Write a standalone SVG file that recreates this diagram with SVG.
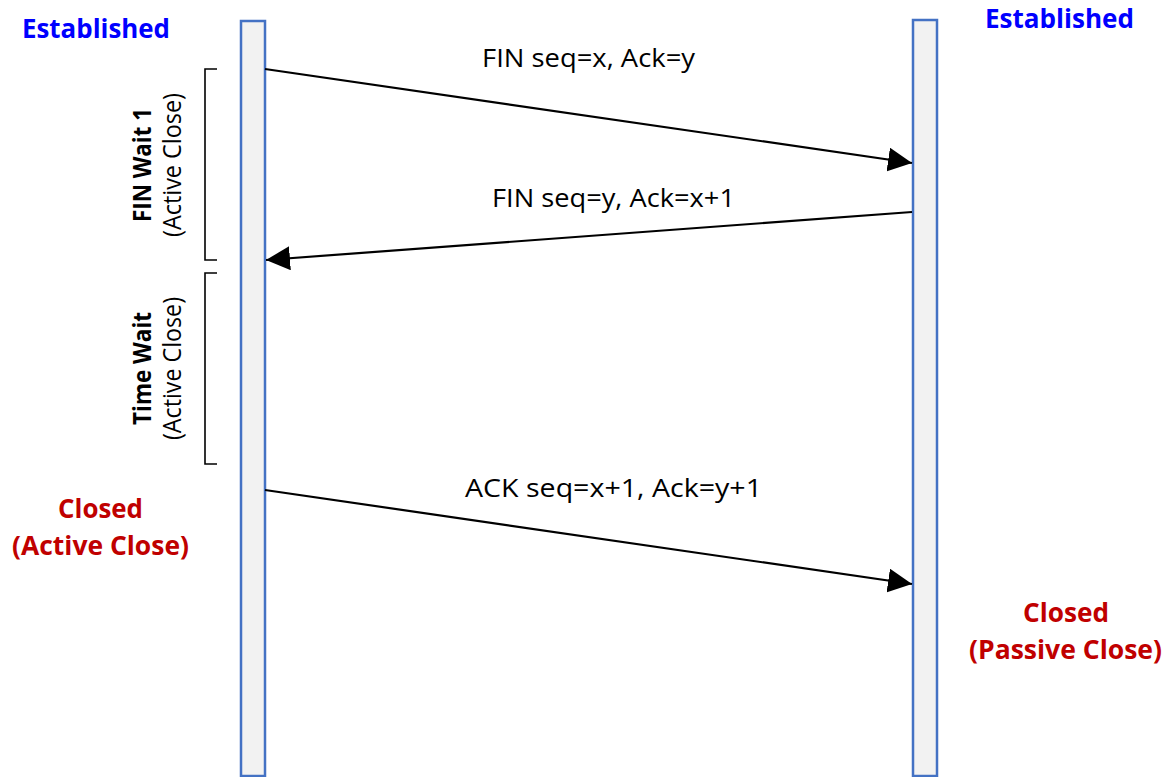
<svg xmlns="http://www.w3.org/2000/svg" width="1168" height="777" viewBox="0 0 1168 777">
  <style>
    .lifeline { fill: #F2F2F2; stroke: #4472C4; stroke-width: 2.5; }
    .msg { fill: none; stroke: #000; stroke-width: 2.2; marker-end: url(#head); }
    .bracket { fill: none; stroke: #000; stroke-width: 1.6; }
    .lbl { font-family: "Open Sans", "Liberation Sans", sans-serif; font-size: 25.5px; fill: #000; }
    .state { font-family: "Open Sans", "Liberation Sans", sans-serif; font-size: 27px; font-weight: bold; }
    .blue { fill: #0000FF; }
    .red { fill: #C00000; }
    .vbold { font-family: "Open Sans", "Liberation Sans", sans-serif; font-size: 25px; font-weight: bold; fill: #000; }
    .vreg { font-family: "Open Sans", "Liberation Sans", sans-serif; font-size: 25px; fill: #000; }
  </style>
  <defs>
    <marker id="head" markerUnits="userSpaceOnUse" markerWidth="24" markerHeight="24" refX="22" refY="11" orient="auto" viewBox="0 0 22 22">
      <path d="M0,0 L22,11 L0,22 Z" fill="#000"/>
    </marker>
  </defs>

  <rect width="1168" height="777" fill="#fff"/>

  <!-- lifelines -->
  <g id="client">
    <rect class="lifeline" x="241" y="21" width="24" height="755"/>
  </g>
  <g id="server">
    <rect class="lifeline" x="913" y="20" width="24" height="756"/>
  </g>

  <!-- messages -->
  <g id="connectors">
    <line class="msg" x1="265" y1="69" x2="912" y2="163"/>
    <line class="msg" x1="912" y1="212" x2="266" y2="260"/>
    <line class="msg" x1="265" y1="490" x2="912" y2="584"/>
  </g>

  <g id="msg-labels">
    <text class="lbl" x="482" y="67" textLength="213" lengthAdjust="spacingAndGlyphs">FIN seq=x, Ack=y</text>
    <text class="lbl" x="492" y="207" textLength="243" lengthAdjust="spacingAndGlyphs">FIN seq=y, Ack=x+1</text>
    <text class="lbl" x="465" y="497" textLength="297" lengthAdjust="spacingAndGlyphs">ACK seq=x+1, Ack=y+1</text>
  </g>

  <!-- state labels -->
  <g id="client-established">
    <text class="state blue" x="22" y="37.5" textLength="148" lengthAdjust="spacingAndGlyphs">Established</text>
  </g>
  <g id="server-established">
    <text class="state blue" x="985" y="27.5" textLength="149" lengthAdjust="spacingAndGlyphs">Established</text>
  </g>
  <g id="client-closed">
    <text class="state red" x="58" y="517.5" textLength="85" lengthAdjust="spacingAndGlyphs">Closed</text>
    <text class="state red" x="12" y="555" textLength="177" lengthAdjust="spacingAndGlyphs">(Active Close)</text>
  </g>
  <g id="server-closed">
    <text class="state red" x="1023" y="622" textLength="86" lengthAdjust="spacingAndGlyphs">Closed</text>
    <text class="state red" x="969" y="659" textLength="193" lengthAdjust="spacingAndGlyphs">(Passive Close)</text>
  </g>

  <!-- client-side waiting periods -->
  <g id="fin-wait-1">
    <path class="bracket" d="M217,69 H205 V260 H217"/>
    <text class="vbold" transform="translate(150.5,165) rotate(-90)" text-anchor="middle" textLength="114" lengthAdjust="spacingAndGlyphs">FIN Wait 1</text>
    <text class="vreg" transform="translate(181,165) rotate(-90)" text-anchor="middle" textLength="144" lengthAdjust="spacingAndGlyphs">(Active Close)</text>
  </g>
  <g id="time-wait">
    <path class="bracket" d="M217,273 H205 V464 H217"/>
    <text class="vbold" transform="translate(150.5,368.5) rotate(-90)" text-anchor="middle" textLength="113" lengthAdjust="spacingAndGlyphs">Time Wait</text>
    <text class="vreg" transform="translate(181,368.5) rotate(-90)" text-anchor="middle" textLength="143" lengthAdjust="spacingAndGlyphs">(Active Close)</text>
  </g>
</svg>
